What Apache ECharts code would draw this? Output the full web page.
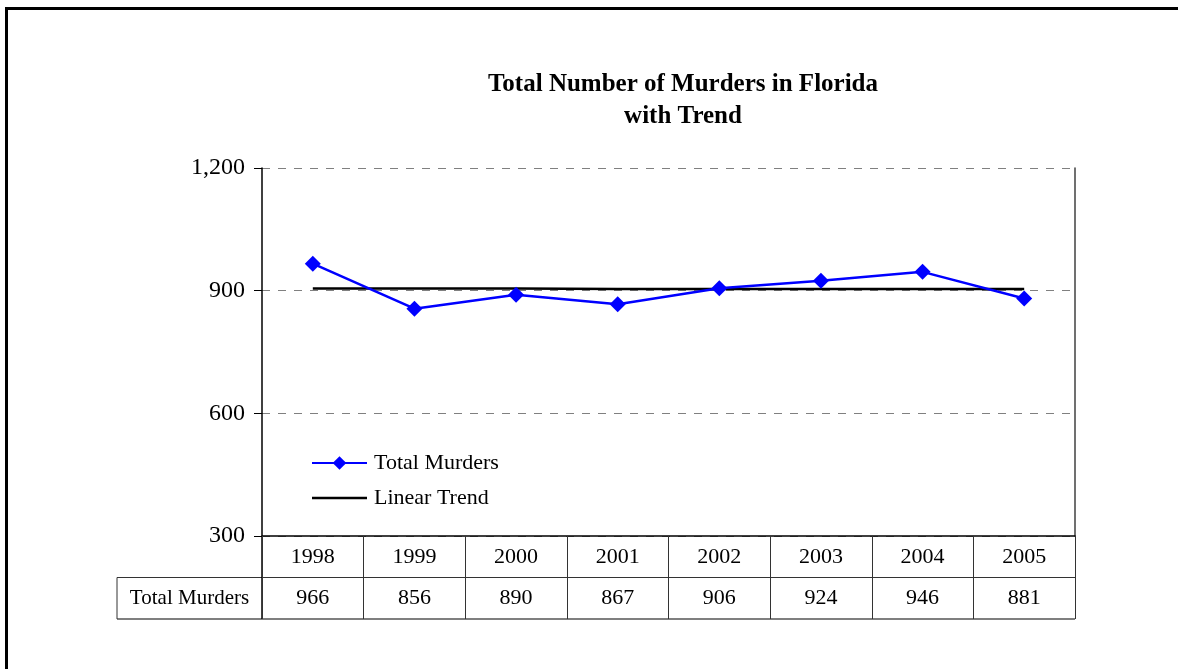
<!DOCTYPE html>
<html>
<head>
<meta charset="utf-8">
<script src="https://cdn.jsdelivr.net/npm/echarts@6/dist/echarts.min.js"></script>
<style>
  html, body { margin: 0; padding: 0; background: #fff; }
  #chart { width: 1178px; height: 669px; }
</style>
</head>
<body>
<div id="chart"></div>
<script>
// data
const years = ['1998', '1999', '2000', '2001', '2002', '2003', '2004', '2005'];
const murders = [966, 856, 890, 867, 906, 924, 946, 881];
const trend = [905, 905, 905, 904, 904, 904, 904, 904];
const yTicks = [300, 600, 900, 1200];

const font = 'Liberation Serif, Times New Roman, serif';
// plot box
const gl = 262, gt = 168, gw = 813, gh = 368;
const rowH = 41.5;
const cellLeft = 117;

const chart = echarts.init(document.getElementById('chart'));

chart.setOption({
  backgroundColor: '#ffffff',
  animation: false,
  title: {
    text: 'Total Number of Murders in Florida\nwith Trend',
    left: 678,
    textAlign: 'center',
    top: 64,
    textStyle: {
      fontFamily: font,
      fontWeight: 'bold',
      fontSize: 25,
      lineHeight: 32,
      color: '#000'
    }
  },
  legend: {
    orient: 'vertical',
    left: 311,
    top: 452,
    padding: 0,
    itemWidth: 55,
    itemHeight: 17,
    itemGap: 13,
    textStyle: { fontFamily: font, fontSize: 22, color: '#000', padding: [0, 0, 0, 2] },
    data: [
      { name: 'Total Murders' },
      { name: 'Linear Trend', icon: 'path://M0,0 L55,0 L55,2.5 L0,2.5 Z' }
    ]
  },
  grid: { left: gl, top: gt, width: gw, height: gh, containLabel: false },
  xAxis: [{
    type: 'category',
    data: years,
    boundaryGap: true,
    axisLine: { lineStyle: { color: '#000', width: 1.5 } },
    axisTick: { show: true, interval: 0, length: rowH * 2, lineStyle: { color: '#333', width: 1 } },
    axisLabel: { interval: 0, margin: 10, fontFamily: font, fontSize: 22, color: '#000' },
    splitLine: { show: false }
  }, {
    type: 'category',
    data: murders.map(String),
    position: 'bottom',
    offset: rowH,
    boundaryGap: true,
    axisLine: { show: false },
    axisTick: { show: false },
    axisLabel: { interval: 0, margin: 10, fontFamily: font, fontSize: 22, color: '#000' }
  }],
  yAxis: [{
    type: 'value',
    min: yTicks[0],
    max: yTicks[yTicks.length - 1],
    interval: 300,
    axisLine: { show: true, lineStyle: { color: '#000', width: 1.5 } },
    axisTick: { show: true, length: 8, lineStyle: { color: '#000' } },
    axisLabel: {
      margin: 17, fontFamily: font, fontSize: 24, color: '#000',
      formatter: v => v.toLocaleString('en-US')
    },
    splitLine: { show: true, lineStyle: { color: '#808080', type: [8, 8], width: 1 } }
  }, {
    type: 'value',
    position: 'right',
    min: yTicks[0],
    max: yTicks[yTicks.length - 1],
    interval: 300,
    axisLine: { show: true, lineStyle: { color: '#404040', width: 1.5 } },
    axisTick: { show: false },
    axisLabel: { show: false },
    splitLine: { show: false }
  }],
  series: [{
    name: 'Total Murders',
    type: 'line',
    data: murders,
    symbol: 'diamond',
    symbolSize: 16,
    lineStyle: { color: '#0000ff', width: 2.5 },
    itemStyle: { color: '#0000ff' },
    z: 3
  }, {
    name: 'Linear Trend',
    type: 'line',
    data: trend,
    symbol: 'none',
    lineStyle: { color: '#000', width: 2.5 },
    itemStyle: { color: '#000' },
    z: 2
  }],
  graphic: [
    // outer frame
    {
      type: 'rect', left: 4, top: 6, silent: true,
      shape: { width: 1200, height: 700 },
      style: { fill: 'none', stroke: '#000', lineWidth: 3 }
    },
    // data table rules
    {
      type: 'line', silent: true,
      shape: { x1: cellLeft, y1: gt + gh + rowH, x2: gl + gw, y2: gt + gh + rowH },
      style: { stroke: '#333', lineWidth: 1 }
    },
    {
      type: 'line', silent: true,
      shape: { x1: cellLeft, y1: gt + gh + rowH * 2, x2: gl + gw, y2: gt + gh + rowH * 2 },
      style: { stroke: '#555', lineWidth: 1.5 }
    },
    {
      type: 'line', silent: true,
      shape: { x1: cellLeft, y1: gt + gh + rowH, x2: cellLeft, y2: gt + gh + rowH * 2 },
      style: { stroke: '#333', lineWidth: 1 }
    },
    {
      type: 'line', silent: true,
      shape: { x1: gl, y1: gt + gh, x2: gl, y2: gt + gh + rowH * 2 },
      style: { stroke: '#000', lineWidth: 1.5 }
    },
    {
      type: 'text', silent: true,
      x: (cellLeft + gl) / 2, y: gt + gh + rowH * 1.5,
      style: {
        text: 'Total Murders', fontFamily: font, fontSize: 21, fill: '#000',
        align: 'center', verticalAlign: 'middle'
      }
    }
  ]
});
</script>
</body>
</html>
